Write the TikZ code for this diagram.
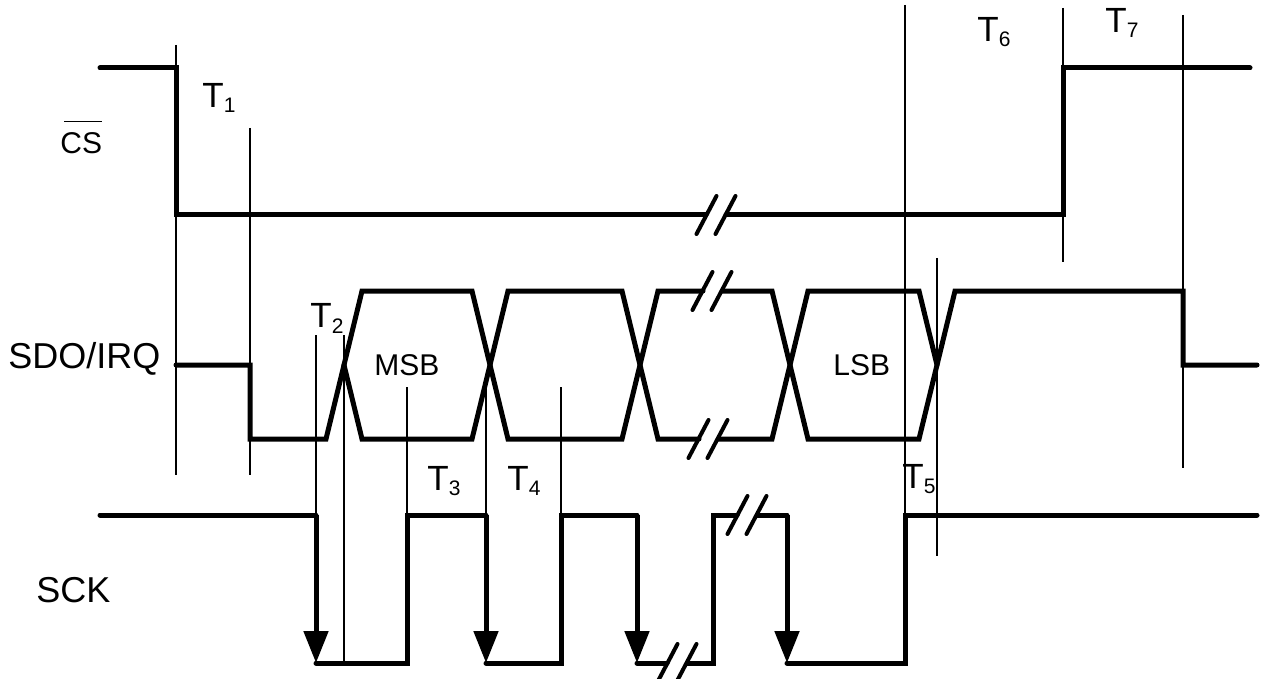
\documentclass[tikz,border=0pt]{standalone}
\usepackage{fontspec}
\setmainfont{Liberation Sans}
\usetikzlibrary{arrows.meta}

% T with a lowered small index
\newcommand{\tname}[1]{T\raisebox{-2.5pt}{\fontsize{10.5}{12}\selectfont #1}}
% two slashes that mark a break in a line
\newcommand{\cut}[2]{\draw[brk, shift={(#1,#2)}] (-19.5,19) -- (0.5,-19) (-0.5,19) -- (19.5,-19);}

\begin{document}
\begin{tikzpicture}[x=0.5pt,y=-0.5pt,
    sig/.style={line width=2.5pt, line join=miter, line cap=round},
    edge/.style={line width=2.5pt, -{Triangle[length=16pt,width=12pt]}},
    thin/.style={line width=0.7pt},
    brk/.style={line width=2pt, line cap=round},
    lab/.style={inner sep=0pt, anchor=base west, font=\fontsize{18}{20}\selectfont},
    tlab/.style={inner sep=0pt, anchor=base west, font=\fontsize{17.5}{20}\selectfont},
    small/.style={inner sep=0pt, anchor=base west, font=\fontsize{15}{18}\selectfont}]

      \useasboundingbox (0,0) rectangle (1263,679);

      %write signal names
      \node[small] (cs) at (60,154) {\rlap{\hspace{2pt}\raisebox{16pt}{\rule{19pt}{0.65pt}}}CS};
      \node[lab] (sdo) at (8,368) {SDO/IRQ};
      \node[lab] (sck) at (36,602) {SCK};

      %write T1 ... T7
      \node[tlab] (t1) at (202,108) {\tname{1}};
      \node[tlab] (t2) at (310,328) {\tname{2}};
      \node[tlab] (t3) at (427,490) {\tname{3}};
      \node[tlab] (t4) at (507,490) {\tname{4}};
      \node[tlab] (t5) at (902,488) {\tname{5}};
      \node[tlab] (t6) at (977,42) {\tname{6}};
      \node[tlab] (t7) at (1105,33) {\tname{7}};

      %write MSB, LSB
      \node[small] (msb) at (374,375) {MSB};
      \node[small] (lsb) at (833,375) {LSB};

      % thin timing lines
      \draw[thin] (176,45) -- (176,475);
      \draw[thin] (250,128) -- (250,475);
      \draw[thin] (316,335) -- (316,515);
      \draw[thin] (344,335) -- (344,663);
      \draw[thin] (407,387) -- (407,515);
      \draw[thin] (486,387) -- (486,515);
      \draw[thin] (561,387) -- (561,515);
      \draw[thin] (905,5) -- (905,515);
      \draw[thin] (937,258) -- (937,556);
      \draw[thin] (1063,8) -- (1063,262);
      \draw[thin] (1183,15) -- (1183,468);

      % CS line
      \draw[sig] (100,68) -- (176,68) -- (176,215) -- (706,215);
      \draw[sig] (726,215) -- (1063,215) -- (1063,68) -- (1250,68);
      \cut{716}{215}

      % SDO/IRQ data eyes
      \draw[sig] (176,365) -- (250,365) -- (250,439) -- (326,439) -- (362,291) -- (472,291)
                 -- (508,439) -- (622,439) -- (658,291) -- (703,291);
      \draw[sig] (722,291) -- (772,291) -- (808,439) -- (919,439) -- (955,291) -- (1183,291)
                 -- (1183,365) -- (1257,365);
      \draw[sig] (344,365) -- (362,439) -- (472,439) -- (508,291) -- (622,291) -- (658,439) -- (699,439);
      \draw[sig] (718,439) -- (772,439) -- (808,291) -- (919,291) -- (937,365);
      \cut{712}{291}
      \cut{708}{439}

      % SCK line, falling edges with arrows
      \draw[sig] (100,515) -- (316,515);
      \draw[edge] (316,515) -- (316,663);
      \draw[sig] (316,663) -- (407,663) -- (407,515) -- (486,515);
      \draw[edge] (486,515) -- (486,663);
      \draw[sig] (486,663) -- (561,663) -- (561,515) -- (637,515);
      \draw[edge] (637,515) -- (637,663);
      \draw[sig] (637,663) -- (667,663);
      \draw[sig] (687,663) -- (713,663) -- (713,515) -- (737,515);
      \draw[sig] (757,515) -- (787,515);
      \draw[edge] (787,515) -- (787,663);
      \draw[sig] (787,663) -- (905,663) -- (905,515) -- (1257,515);
      \cut{677}{663}
      \cut{747}{515}
    \end{tikzpicture}
\end{document}
